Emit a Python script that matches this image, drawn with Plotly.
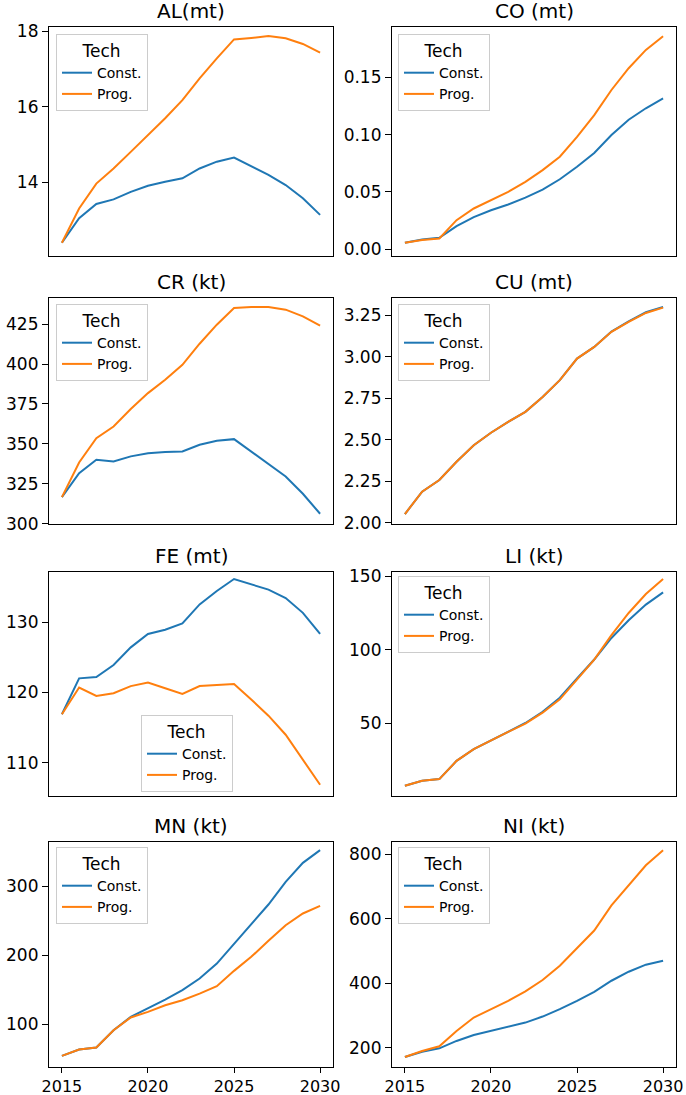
import plotly.graph_objects as go

years = list(range(2015, 2031))
series_names = ["Const.", "Prog."]
titles = ["AL(mt)", "CO (mt)", "CR (kt)", "CU (mt)", "FE (mt)", "LI (kt)", "MN (kt)", "NI (kt)"]

al_const = [12.39, 13.04, 13.42, 13.54, 13.74, 13.90, 14.01, 14.10, 14.36, 14.54, 14.65, 14.41, 14.19, 13.92, 13.57, 13.13]
al_prog = [12.39, 13.30, 13.96, 14.36, 14.80, 15.25, 15.69, 16.17, 16.75, 17.28, 17.78, 17.82, 17.87, 17.81, 17.66, 17.43]

co_const = [0.0055, 0.0084, 0.0099, 0.020, 0.028, 0.034, 0.039, 0.045, 0.052, 0.061, 0.072, 0.084, 0.0996, 0.113, 0.123, 0.1316]
co_prog = [0.0055, 0.0079, 0.0093, 0.0253, 0.0355, 0.0428, 0.050, 0.0588, 0.069, 0.0807, 0.098, 0.117, 0.139, 0.158, 0.174, 0.186]

cr_const = [316.7, 331.7, 340.1, 339.0, 342.2, 344.2, 344.9, 345.3, 349.5, 352.0, 353.0, 345.3, 337.6, 329.6, 318.8, 306.3]
cr_prog = [316.7, 338.4, 353.6, 360.9, 371.8, 381.8, 390.2, 399.5, 412.7, 424.6, 435.0, 435.6, 435.6, 434.0, 429.8, 424.0]

cu_const = [2.052, 2.187, 2.257, 2.367, 2.467, 2.542, 2.608, 2.668, 2.758, 2.859, 2.989, 3.059, 3.152, 3.213, 3.268, 3.300]
cu_prog = [2.052, 2.187, 2.257, 2.367, 2.467, 2.542, 2.608, 2.668, 2.758, 2.859, 2.989, 3.059, 3.150, 3.210, 3.264, 3.296]

fe_const = [116.9, 122.0, 122.2, 123.9, 126.4, 128.3, 128.9, 129.8, 132.5, 134.4, 136.1, 135.3, 134.6, 133.4, 131.3, 128.3]
fe_prog = [116.9, 120.7, 119.5, 119.9, 120.9, 121.4, 120.6, 119.8, 120.9, 121.1, 121.2, 119.0, 116.7, 114.0, 110.4, 106.9]

li_const = [7.5, 10.9, 12.0, 24.4, 32.4, 38.5, 44.1, 50.2, 57.8, 67.4, 80.5, 93.4, 108.1, 120.1, 130.8, 139.1]
li_prog = [7.5, 10.9, 12.0, 24.4, 32.4, 38.5, 44.1, 49.8, 57.2, 66.3, 79.9, 93.4, 110.0, 125.1, 138.0, 148.2]

mn_const = [54.1, 63.3, 66.2, 91.3, 110.6, 122.7, 135.7, 149.3, 166.2, 187.9, 216.9, 244.4, 273.4, 306.3, 333.8, 352.2]
mn_prog = [54.1, 63.3, 66.2, 91.3, 109.7, 117.9, 127.5, 134.8, 144.4, 155.1, 177.3, 197.6, 220.8, 243.5, 260.4, 271.5]

ni_const = [171.0, 187.5, 197.9, 220.8, 239.4, 251.9, 264.3, 277.8, 296.5, 319.4, 345.3, 373.3, 407.6, 435.6, 457.4, 469.9]
ni_prog = [171.0, 189.6, 204.2, 251.9, 293.4, 319.4, 345.3, 374.4, 409.7, 454.3, 508.3, 563.3, 641.1, 703.4, 765.7, 812.4]

data = [
    (al_const, al_prog), (co_const, co_prog), (cr_const, cr_prog), (cu_const, cu_prog),
    (fe_const, fe_prog), (li_const, li_prog), (mn_const, mn_prog), (ni_const, ni_prog),
]

y_ranges = [[12.04, 18.11], [-0.006, 0.194], [299.9, 441.3], [1.992, 3.354],
            [105.3, 137.1], [0.5, 153.0], [38.0, 364.0], [140.0, 838.0]]
y_ticks = [[14, 16, 18], [0.0, 0.05, 0.10, 0.15], [300, 325, 350, 375, 400, 425],
           [2.0, 2.25, 2.5, 2.75, 3.0, 3.25], [110, 120, 130], [50, 100, 150],
           [100, 200, 300], [200, 400, 600, 800]]
y_fmt = ["d", ".2f", "d", ".2f", "d", "d", "d", "d"]
x_ticks = [2015, 2020, 2025, 2030]

W, H = 686, 1095
col_px = [(49, 333), (392, 676)]
row_px = [(27, 256), (298, 524), (572, 796), (842, 1067)]
legend_px = [(56, 34), (398, 34), (56, 304), (398, 304), (141, 715), (398, 576), (56, 847), (398, 847)]
colors = ["#1f77b4", "#ff7f0e"]
FONT = "DejaVu Sans"

fig = go.Figure()
layout = dict(
    template="none",
    width=W, height=H, margin=dict(l=0, r=0, t=0, b=0, autoexpand=False),
    paper_bgcolor="white", plot_bgcolor="white", showlegend=True,
    font=dict(family=FONT, size=17, color="#000000"),
)
annotations = []
for i in range(8):
    r, c = divmod(i, 2)
    sfx = "" if i == 0 else str(i + 1)
    x0, x1 = col_px[c]
    t0, t1 = row_px[r]
    xd = [x0 / W, x1 / W]
    yd = [1 - t1 / H, 1 - t0 / H]
    bottom = (r == 3)
    layout["xaxis" + sfx] = dict(
        domain=xd, anchor="y" + sfx, range=[2014.25, 2030.75], automargin=False,
        showline=True, mirror=True, linecolor="black", linewidth=1.2,
        showgrid=False, zeroline=False,
        tickvals=x_ticks if bottom else [], ticks="outside" if bottom else "",
        ticklen=5, tickwidth=1.2, tickcolor="black", showticklabels=bottom,
        tickfont=dict(size=16, family=FONT), tickformat="d",
    )
    layout["yaxis" + sfx] = dict(
        domain=yd, anchor="x" + sfx, range=y_ranges[i], automargin=False,
        showline=True, mirror=True, linecolor="black", linewidth=1.2,
        showgrid=False, zeroline=False, tickvals=y_ticks[i], tickformat=y_fmt[i],
        ticks="outside", ticklen=6, tickwidth=1.2, tickcolor="black",
        tickfont=dict(size=17, family=FONT),
    )
    lx, ly = legend_px[i]
    layout["legend" + sfx] = dict(
        x=lx / W, y=1 - ly / H, xref="paper", yref="paper",
        xanchor="left", yanchor="top",
        bgcolor="rgba(255,255,255,0.8)", bordercolor="#cccccc", borderwidth=1,
        title=dict(text="Tech", side="top center", font=dict(size=17, family=FONT)),
        font=dict(size=14, family=FONT), tracegroupgap=0, itemwidth=30,
    )
    annotations.append(dict(
        text=titles[i], x=(xd[0] + xd[1]) / 2, y=yd[1], xref="paper", yref="paper",
        xanchor="center", yanchor="bottom", yshift=2, showarrow=False,
        font=dict(size=20, family=FONT),
    ))
    for k in range(2):
        fig.add_trace(go.Scatter(
            x=years, y=data[i][k], mode="lines", name=series_names[k],
            line=dict(color=colors[k], width=2),
            xaxis="x" + sfx, yaxis="y" + sfx, legend="legend" + sfx,
        ))
layout["annotations"] = annotations
fig.update_layout(**layout)
fig.write_html(
    "out.html",
    config={"displayModeBar": False},
    post_script="document.body.style.margin='0';document.body.style.overflow='hidden';",
)
